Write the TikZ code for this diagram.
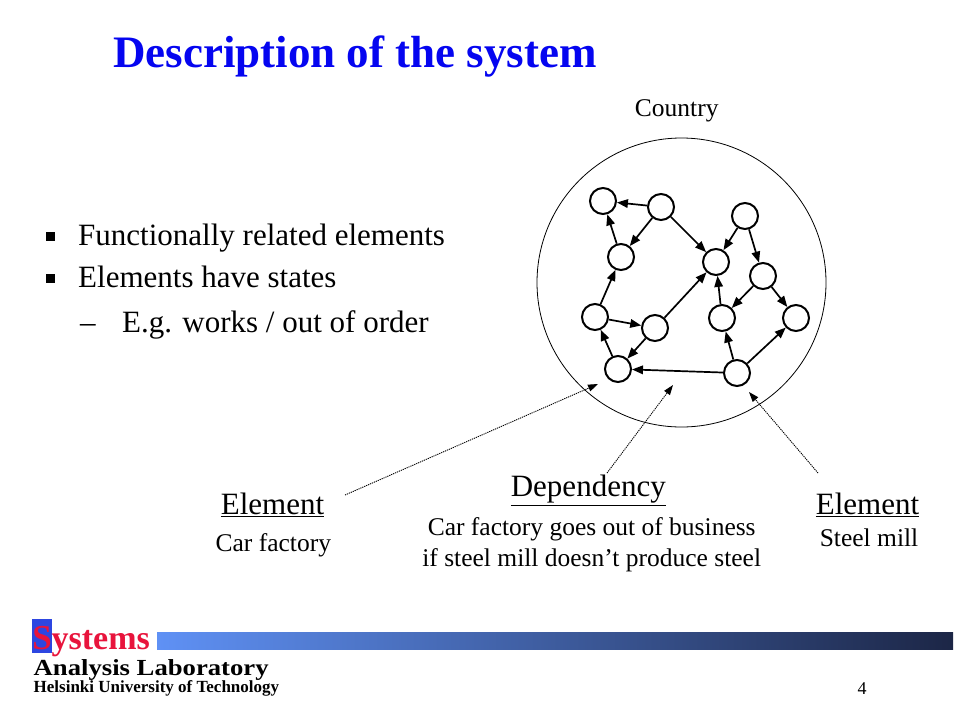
\documentclass[tikz,border=0pt]{standalone}
\usepackage{fontspec}
\setmainfont{Liberation Serif}
\usetikzlibrary{arrows.meta}
\definecolor{titleblue}{RGB}{5,5,240}
\definecolor{logored}{RGB}{232,20,60}
\definecolor{logoblue}{RGB}{45,70,225}
\definecolor{barleft}{RGB}{95,145,245}
\definecolor{barright}{RGB}{28,38,70}
\begin{document}
\begin{tikzpicture}[x=1pt,y=-1pt,
  elem/.style={circle, draw, line width=2pt, minimum size=26pt, inner sep=0pt},
  dep/.style={line width=1.7pt, -{Triangle[length=11pt,width=8.5pt]}},
  ptr/.style={line width=0.9pt, dash pattern=on 1.2pt off 0.9pt, -{Triangle[length=10pt,width=7pt]}},
  big/.style={font=\rmfamily\fontsize{31}{36}\selectfont, anchor=base, inner sep=0pt},
  small/.style={font=\rmfamily\fontsize{25.5}{30}\selectfont, anchor=base, inner sep=0pt},
  bul/.style={fill=black, minimum size=9pt, inner sep=0pt}]
\useasboundingbox (0,0) rectangle (960,720);

% title
\node[anchor=base west, inner sep=0pt, text=titleblue, font=\rmfamily\fontsize{45}{54}\selectfont\bfseries] (title) at (113,67) {Description of the system};

% bullets
\node[bul] (b1) at (50,236) {};
\node[big, anchor=base west] (t1) at (78,245) {Functionally related elements};
\node[bul] (b2) at (50,278) {};
\node[big, anchor=base west] (t2) at (78,287) {Elements have states};
\node[big, anchor=base west] (dash) at (80,332) {–};
\node[big, anchor=base west] (t3) at (122,332) {E.g. works / out of order};

% country
\node[small] (countrylbl) at (676.7,116) {Country};
\node[circle, draw, line width=0.8pt, minimum size=289pt, inner sep=0pt] (country) at (681.5,282.5) {};

% elements
\node[elem] (A) at (603,201) {};
\node[elem] (B) at (661,207) {};
\node[elem] (C) at (745,216) {};
\node[elem] (D) at (621,257) {};
\node[elem] (E) at (716,262) {};
\node[elem] (F) at (763,276) {};
\node[elem] (G) at (595,317) {};
\node[elem] (H) at (655,328) {};
\node[elem] (I) at (722,318) {};
\node[elem] (J) at (796,318) {};
\node[elem] (K) at (618,369) {};
\node[elem] (L) at (737,373) {};

% dependencies
\draw[dep] (B) -- (A);
\draw[dep] (B) -- (D);
\draw[dep] (B) -- (E);
\draw[dep] (C) -- (E);
\draw[dep] (C) -- (F);
\draw[dep] (D) -- (A);
\draw[dep] (G) -- (D);
\draw[dep] (G) -- (H);
\draw[dep] (H) -- (E);
\draw[dep] (H) -- (K);
\draw[dep] (K) -- (G);
\draw[dep] (F) -- (I);
\draw[dep] (F) -- (J);
\draw[dep] (I) -- (E);
\draw[dep] (L) -- (I);
\draw[dep] (L) -- (J);
\draw[dep] (L) -- (K);

% labels
\node[big] (el1) at (272.5,514) {\underline{Element}};
\node[small] (cf) at (273.3,551.7) {Car factory};
\node[big] (dp) at (588.3,496.7) {\underline{Dependency}};
\node[small] (dp1) at (591.7,535) {Car factory goes out of business};
\node[small] (dp2) at (591.7,566.7) {if steel mill doesn’t produce steel};
\node[big] (el2) at (867.5,514.3) {\underline{Element}};
\node[small] (sm) at (869,546.7) {Steel mill};

% pointers
\coordinate (p1s) at (345,495);
\coordinate (p1e) at (598,384);
\coordinate (p2s) at (607,473);
\coordinate (p2e) at (673,385);
\coordinate (p3s) at (818,473);
\coordinate (p3e) at (749,392);
\draw[ptr] (p1s) -- (p1e);
\draw[ptr] (p2s) -- (p2e);
\draw[ptr] (p3s) -- (p3e);

% footer
\fill[logoblue] (32,619) rectangle (52,653);
\shade[left color=barleft, right color=barright] (157,632) rectangle (953,649);
\node[anchor=base, inner sep=0pt, text=logored, font=\rmfamily\fontsize{35}{40}\selectfont\bfseries] (S) at (42,649) {S};
\node[anchor=base west, inner sep=0pt, text=logored, font=\rmfamily\fontsize{34}{40}\selectfont\bfseries] (ys) at (51.5,649) {ystems};
\node[anchor=base west, inner sep=0pt, font=\rmfamily\fontsize{23}{28}\selectfont\bfseries] (al) at (33.5,675.3) {\scalebox{1.16}[1]{Analysis Laboratory}};
\node[anchor=base west, inner sep=0pt, font=\rmfamily\fontsize{17}{20}\selectfont\bfseries] (hut) at (33.5,692) {Helsinki University of Technology};
\node[anchor=base, inner sep=0pt, font=\rmfamily\fontsize{18}{22}\selectfont] (pg) at (862,694) {4};
\end{tikzpicture}
\end{document}
